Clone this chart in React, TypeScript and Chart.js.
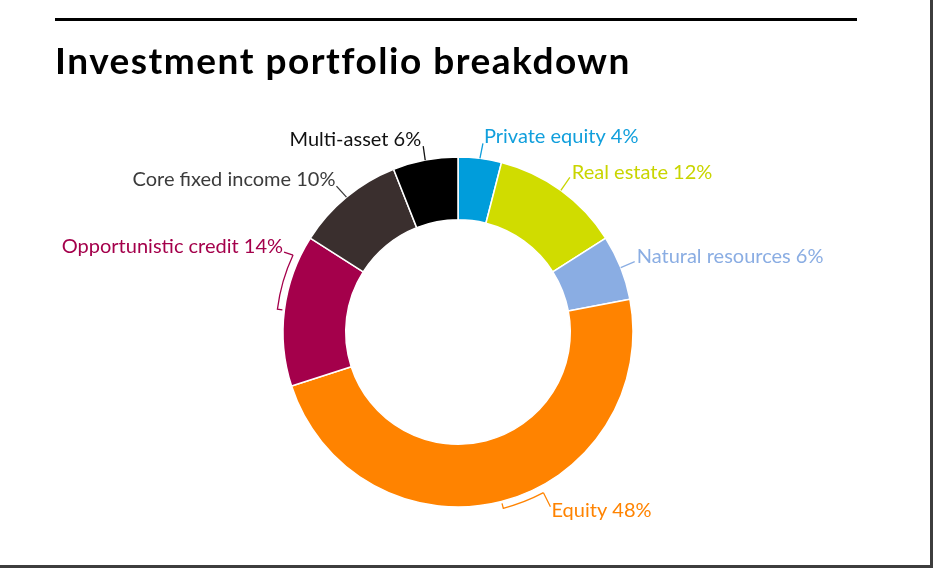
import { useEffect, useRef } from "react";
import { Chart, ArcElement, DoughnutController, type Plugin } from "chart.js";

Chart.register(ArcElement, DoughnutController);

const TITLE = "Investment portfolio breakdown";

const categories = [
  "Private equity",
  "Real estate",
  "Natural resources",
  "Equity",
  "Opportunistic credit",
  "Core fixed income",
  "Multi-asset",
];
const shares = [4, 12, 6, 48, 14, 10, 6];

const sliceColors = ["#009ddb", "#d0dc00", "#8aade3", "#ff8300", "#a4004b", "#3a2f2e", "#000000"];
const labelColors = ["#119fdc", "#c9d500", "#8aade3", "#ff8300", "#a4004b", "#3b3b3b", "#111111"];

// how each callout leaves the ring: optional bracket (degrees from the slice middle),
// then a leader [dx, dy] and the text placed at its end
type Callout = { bracket: number; leader: [number, number]; side: "left" | "right"; dx: number; dy: number };
const callouts: Callout[] = [
  { bracket: 0, leader: [3, -15], side: "left", dx: 1, dy: 0 },
  { bracket: 0, leader: [9, -13], side: "left", dx: 2, dy: 2 },
  { bracket: 0, leader: [14, -6], side: "left", dx: 2, dy: 1 },
  { bracket: -13.6, leader: [7, 14], side: "left", dx: 1, dy: 10 },
  { bracket: 17.8, leader: [-9, -3], side: "right", dx: -1, dy: 1 },
  { bracket: 0, leader: [-10, -11], side: "right", dx: -1, dy: 0 },
  { bracket: 0, leader: [-2, -14], side: "right", dx: -2, dy: 0 },
];

const headerPlugin: Plugin<"doughnut"> = {
  id: "header",
  beforeDraw(chart) {
    const ctx = chart.ctx;
    ctx.save();
    ctx.fillStyle = "#000";
    ctx.fillRect(55, 18, 802, 3);
    ctx.font = "bold 37px Lato";
    (ctx as any).letterSpacing = "1.5px";
    ctx.textBaseline = "alphabetic";
    ctx.textAlign = "left";
    ctx.fillText(TITLE, 55, 74);
    ctx.restore();
  },
};

const calloutPlugin: Plugin<"doughnut"> = {
  id: "callouts",
  afterDatasetsDraw(chart) {
    const ctx = chart.ctx;
    const arcs = chart.getDatasetMeta(0).data;
    ctx.save();
    ctx.font = "20px Lato";
    ctx.lineWidth = 1.3;
    arcs.forEach((el, i) => {
      const { x, y, startAngle, endAngle, outerRadius } = el.getProps(
        ["x", "y", "startAngle", "endAngle", "outerRadius"],
        true
      ) as { x: number; y: number; startAngle: number; endAngle: number; outerRadius: number };
      const c = callouts[i];
      const mid = (startAngle + endAngle) / 2;
      ctx.strokeStyle = labelColors[i];
      ctx.fillStyle = labelColors[i];
      let px = x + outerRadius * Math.cos(mid);
      let py = y + outerRadius * Math.sin(mid);
      if (c.bracket) {
        const r = outerRadius + 7;
        const end = mid + (c.bracket * Math.PI) / 180;
        ctx.beginPath();
        ctx.moveTo(x + (outerRadius + 2) * Math.cos(mid), y + (outerRadius + 2) * Math.sin(mid));
        ctx.arc(x, y, r, mid, end, c.bracket < 0);
        ctx.stroke();
        px = x + r * Math.cos(end);
        py = y + r * Math.sin(end);
      }
      const ex = px + c.leader[0];
      const ey = py + c.leader[1];
      ctx.beginPath();
      ctx.moveTo(px, py);
      ctx.lineTo(ex, ey);
      ctx.stroke();
      ctx.textAlign = c.side;
      ctx.textBaseline = "alphabetic";
      ctx.fillText(`${categories[i]} ${shares[i]}%`, ex + c.dx, ey + c.dy);
    });
    ctx.restore();
  },
};

function PortfolioDoughnut() {
  const canvasRef = useRef<HTMLCanvasElement>(null);

  useEffect(() => {
    const chart = new Chart(canvasRef.current!, {
      type: "doughnut",
      data: {
        labels: categories,
        datasets: [
          {
            data: shares,
            backgroundColor: sliceColors,
            borderColor: "#ffffff",
            borderWidth: 1.5,
          },
        ],
      },
      options: {
        responsive: false,
        animation: false,
        events: [],
        radius: 175,
        cutout: 115,
        layout: { padding: { left: 278, right: 292, top: 152, bottom: 53 } },
        plugins: {
          legend: { display: false },
          tooltip: { enabled: false },
        },
      },
      plugins: [headerPlugin, calloutPlugin],
    });

    return () => chart.destroy();
  }, []);

  return <canvas ref={canvasRef} width={930} height={565}></canvas>;
}

export default function App() {
  return (
    <div style={{ position: "fixed", left: 0, top: 0, width: 933, height: 568, background: "#3d3d3d" }}>
      <div style={{ width: 930, height: 565, background: "#ffffff" }}>
        <PortfolioDoughnut />
      </div>
    </div>
  );
}
